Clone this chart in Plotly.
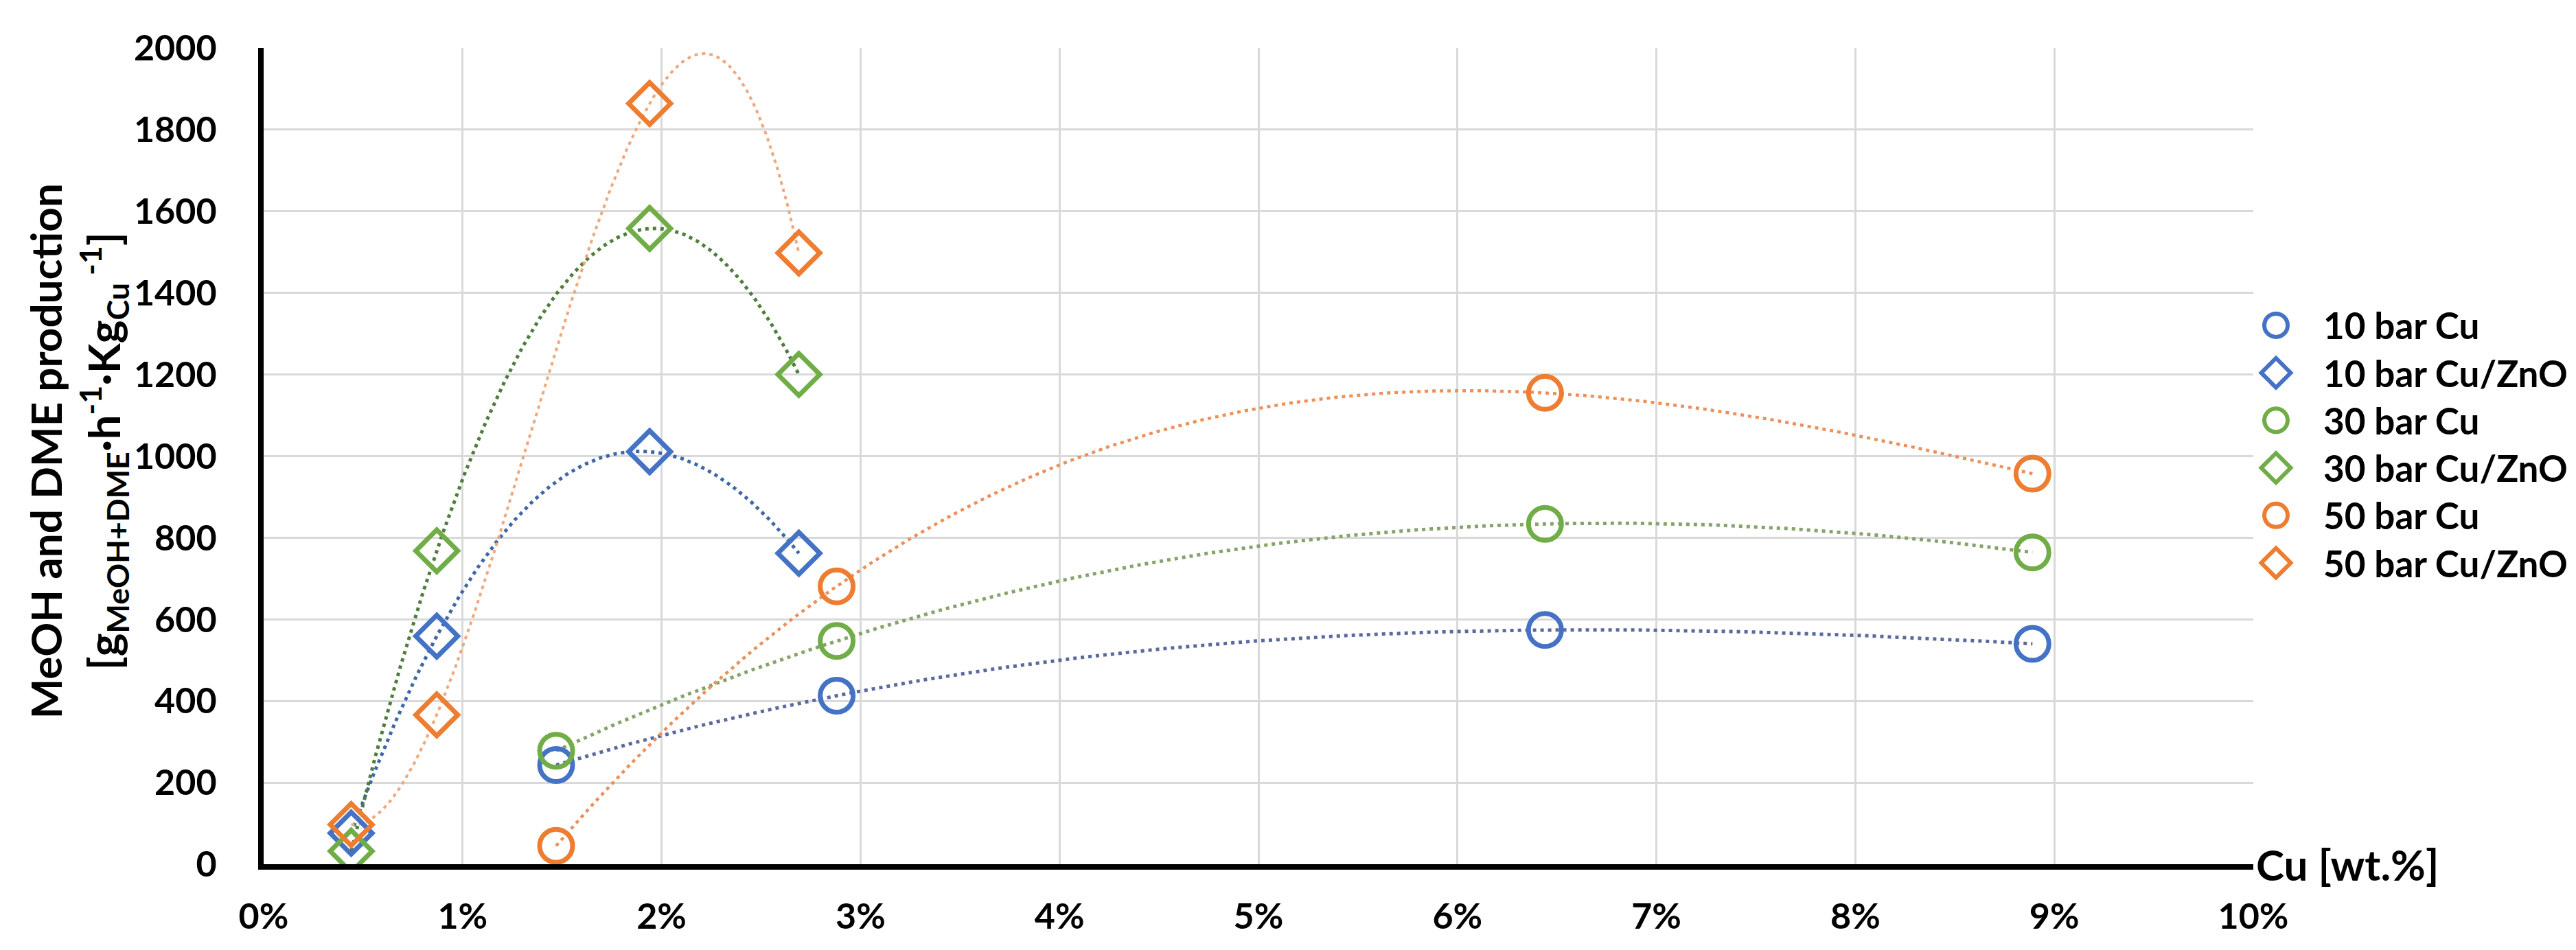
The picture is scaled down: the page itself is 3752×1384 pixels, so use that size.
import numpy as np
import plotly.graph_objects as go

# ---- data ----
x_cu = [1.47, 2.88, 6.44, 8.89]          # Cu [wt.%] for Cu catalysts
x_zno = [0.44, 0.87, 1.94, 2.69]         # Cu [wt.%] for Cu/ZnO catalysts
y_10_cu = [243, 413, 574, 540]
y_10_zno = [76, 559, 1011, 762]
y_30_cu = [278, 547, 834, 764]
y_30_zno = [32, 768, 1558, 1200]
y_50_cu = [45, 681, 1155, 957]
y_50_zno = [97, 366, 1864, 1498]

names = ["10 bar Cu", "10 bar Cu/ZnO", "30 bar Cu", "30 bar Cu/ZnO", "50 bar Cu", "50 bar Cu/ZnO"]
x_ticks = [0, 1, 2, 3, 4, 5, 6, 7, 8, 9, 10]
y_ticks = [0, 200, 400, 600, 800, 1000, 1200, 1400, 1600, 1800, 2000]

BLUE = "#4472C4"
GREEN = "#70AD47"
ORANGE = "#ED7D31"

series = [
    (names[0], x_cu, y_10_cu, BLUE, "circle-open", "#5b6a9e", 5),
    (names[1], x_zno, y_10_zno, BLUE, "diamond-open", "#3e66a8", 5),
    (names[2], x_cu, y_30_cu, GREEN, "circle-open", "#86a36a", 5),
    (names[3], x_zno, y_30_zno, GREEN, "diamond-open", "#4f7d3b", 5),
    (names[4], x_cu, y_50_cu, ORANGE, "circle-open", "#ec8f58", 4.5),
    (names[5], x_zno, y_50_zno, ORANGE, "diamond-open", "#f2a77a", 4),
]

FONT = "Lato"
W, H = 3752, 1384
PL, PR = 376, 3274          # plot area left / right in px
fig = go.Figure()

# polynomial (order 3) trendlines, as in the original spreadsheet chart
for name, xs, ys, col, sym, tcol, tw in series:
    coef = np.polyfit(xs, ys, 3)
    xx = np.linspace(min(xs), max(xs), 300)
    fig.add_trace(go.Scatter(
        x=xx, y=np.polyval(coef, xx), mode="lines",
        line=dict(color=tcol, width=tw, dash="5px,6px"),
        showlegend=False, hoverinfo="skip"))

for name, xs, ys, col, sym, tcol, tw in series:
    size = 48 if sym.startswith("circle") else 47
    fig.add_trace(go.Scatter(
        x=xs, y=ys, mode="markers", name=name, showlegend=False,
        marker=dict(symbol=sym, size=size, color=col, line=dict(color=col, width=7))))

# legend drawn on its own small axis so the symbols can be large
for i, (name, xs, ys, col, sym, tcol, tw) in enumerate(series):
    lsize = 34 if sym.startswith("circle") else 33
    fig.add_trace(go.Scatter(
        x=[67], y=[name], xaxis="x2", yaxis="y2", mode="markers",
        marker=dict(symbol=sym, size=lsize, color=col, line=dict(color=col, width=6)),
        showlegend=False, hoverinfo="skip"))
    fig.add_annotation(
        text=name, xref="x2", yref="y2", x=134, y=i, xanchor="left", yanchor="middle",
        showarrow=False, font=dict(family=FONT, size=53, color="black", weight="bold"))

tickfont = dict(family=FONT, size=52, color="black", weight="bold")

fig.update_layout(
    width=W, height=H,
    paper_bgcolor="white", plot_bgcolor="rgba(0,0,0,0)",
    margin=dict(l=0, r=0, t=62, b=133, autoexpand=False),
    font=dict(family=FONT, color="black", size=50, weight="bold"),
    showlegend=False,
    xaxis=dict(
        domain=[PL / W, PR / W],
        range=[0, 10], tickmode="array", tickvals=x_ticks,
        ticktext=[f"{v}%" for v in x_ticks],
        showgrid=True, gridcolor="#d9d9d9", gridwidth=3,
        showline=True, linecolor="black", linewidth=8,
        zeroline=False, ticks="", ticklabelstandoff=24,
        tickfont=tickfont, automargin=False,
    ),
    yaxis=dict(
        range=[0, 2000], tickmode="array", tickvals=y_ticks,
        showgrid=True, gridcolor="#d9d9d9", gridwidth=3,
        showline=True, linecolor="black", linewidth=8,
        zeroline=False, ticks="", ticklabelstandoff=50,
        tickfont=tickfont, automargin=False,
    ),
    xaxis2=dict(domain=[3240 / W, 1.0], range=[0, W - 3240], visible=False, anchor="y2"),
    yaxis2=dict(domain=[0.3401, 0.6894], type="category", categoryarray=names,
                categoryorder="array", range=[5.5, -0.5], visible=False, anchor="x2"),
)

# y-axis title, two lines
fig.add_annotation(
    text="MeOH and DME production",
    xref="paper", yref="paper", x=58 / W, y=0.506, xanchor="center", yanchor="middle",
    textangle=-90, showarrow=False,
    font=dict(family=FONT, size=62, color="black", weight="bold"))
fig.add_annotation(
    text="[g<sub>MeOH+DME</sub>·h<sup>-1</sup>·Kg<sub>Cu</sub><sup> -1</sup>]",
    xref="paper", yref="paper", x=143 / W, y=0.506, xanchor="center", yanchor="middle",
    textangle=-90, showarrow=False,
    font=dict(family=FONT, size=64, color="black", weight="bold"))

fig.add_annotation(
    text="Cu [wt.%]", xref="paper", yref="paper", x=PR / W, y=0, xanchor="left", yanchor="middle",
    xshift=2, showarrow=False,
    font=dict(family=FONT, size=62, color="black", weight="bold"))

fig.write_html("out.html")
